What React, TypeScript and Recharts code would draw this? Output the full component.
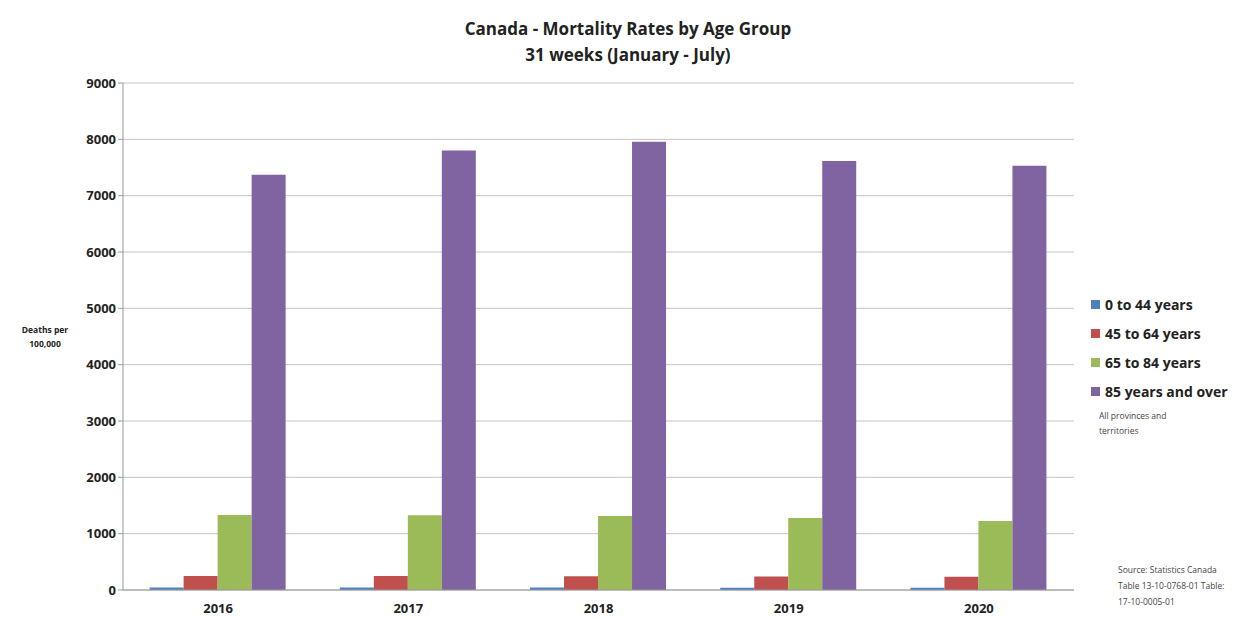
import React from 'react';
import { BarChart, Bar, XAxis, YAxis, CartesianGrid } from 'recharts';

const years = ['2016', '2017', '2018', '2019', '2020'];
const age0to44 = [45, 44, 43, 42, 41];
const age45to64 = [250, 248, 246, 240, 236];
const age65to84 = [1330, 1328, 1312, 1280, 1225];
const age85plus = [7370, 7800, 7955, 7615, 7530];
const yTicks = [0, 1000, 2000, 3000, 4000, 5000, 6000, 7000, 8000, 9000];

const series = [
  { key: 'a', name: '0 to 44 years', color: '#4f81bd', values: age0to44 },
  { key: 'b', name: '45 to 64 years', color: '#c0504d', values: age45to64 },
  { key: 'c', name: '65 to 84 years', color: '#9bbb59', values: age65to84 },
  { key: 'd', name: '85 years and over', color: '#8064a2', values: age85plus },
];

const data = years.map((year, i) => {
  const row: any = { year };
  series.forEach((s) => (row[s.key] = s.values[i]));
  return row;
});

const FONT = '"Open Sans", "Noto Sans", sans-serif';

export default function App() {
  return (
    <div style={{ position: 'absolute', left: 0, top: 0, width: 1249, height: 619, background: '#fff', fontFamily: FONT }}>
      <BarChart
        width={1249}
        height={619}
        data={data}
        margin={{ top: 83, right: 175, bottom: 0, left: 0 }}
        barCategoryGap="14%"
        barGap={0}
      >
        <CartesianGrid vertical={false} stroke="#c4c4c4" />
        <XAxis
          dataKey="year"
          height={29}
          stroke="#999"
          tickLine={false}
          tick={{ fill: '#222', fontSize: 13, fontWeight: 700, fontFamily: FONT }}
          tickMargin={8}
        />
        <YAxis
          width={123}
          domain={[0, 9000]}
          ticks={yTicks}
          interval={0}
          stroke="#999"
          tickSize={5}
          tick={{ fill: '#222', fontSize: 13, fontWeight: 700, fontFamily: FONT }}
        />
        {series.map((s) => (
          <Bar key={s.key} dataKey={s.key} name={s.name} fill={s.color} isAnimationActive={false} />
        ))}
      </BarChart>
      <div style={{ position: 'absolute', left: 0, width: 1256, top: 16, textAlign: 'center', fontSize: 17, fontWeight: 700, color: '#222', lineHeight: '26px' }}>
        Canada - Mortality Rates by Age Group
        <br />
        31 weeks (January - July)
      </div>
      <div style={{ position: 'absolute', left: 10, width: 70, top: 323, textAlign: 'center', fontSize: 8.5, fontWeight: 700, color: '#222', lineHeight: '14px' }}>
        Deaths per
        <br />
        100,000
      </div>
      <div style={{ position: 'absolute', left: 1091, top: 290 }}>
        {series.map((s) => (
          <div key={s.key} style={{ display: 'flex', alignItems: 'center', height: 29 }}>
            <span style={{ width: 9, height: 9, background: s.color, marginRight: 5, display: 'inline-block' }} />
            <span style={{ fontSize: 14, fontWeight: 700, color: '#222' }}>{s.name}</span>
          </div>
        ))}
        <div style={{ fontSize: 8.5, color: '#444', lineHeight: '15px', marginTop: 2, marginLeft: 8 }}>
          All provinces and
          <br />
          territories
        </div>
      </div>
      <div style={{ position: 'absolute', left: 1118, top: 562, fontSize: 8.5, color: '#444', lineHeight: '16px' }}>
        Source: Statistics Canada
        <br />
        Table 13-10-0768-01 Table:
        <br />
        17-10-0005-01
      </div>
    </div>
  );
}
